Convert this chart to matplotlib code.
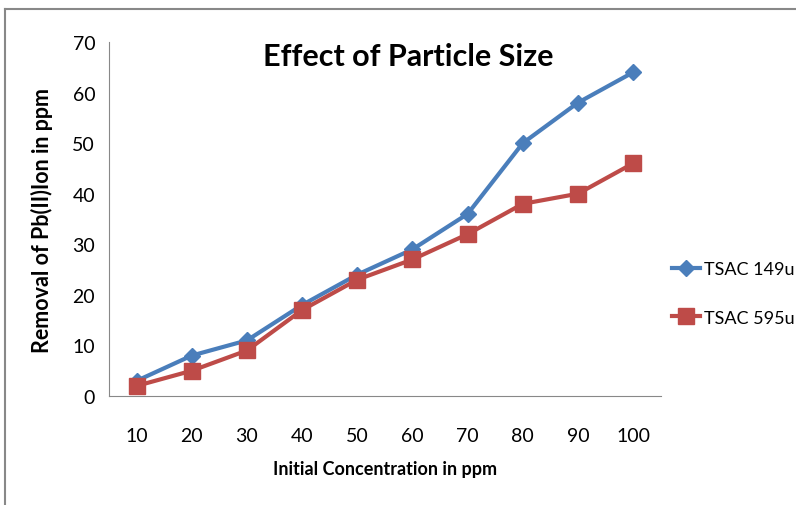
import matplotlib.pyplot as plt
from matplotlib.lines import Line2D

plt.rcParams['font.family'] = ['Lato', 'DejaVu Sans']

# Data
conc = [10, 20, 30, 40, 50, 60, 70, 80, 90, 100]
tsac_149 = [3, 8, 11, 18, 24, 29, 36, 50, 58, 64]
tsac_595 = [2, 5, 9, 17, 23, 27, 32, 38, 40, 46]

blue = '#4a7ebb'
red = '#be4b48'

fig = plt.figure(figsize=(7.96, 5.06), dpi=100)
ax = fig.add_axes([0.137, 0.2154, 0.693, 0.6996])

x = list(range(len(conc)))
ax.plot(x, tsac_149, color=blue, lw=3, marker='D', ms=8, label='TSAC 149u')
ax.plot(x, tsac_595, color=red, lw=3, marker='s', ms=11, label='TSAC 595u')

ax.set_xlim(-0.5, len(conc) - 0.5)
ax.set_ylim(0, 70)
ax.set_xticks(x)
ax.set_xticklabels([str(c) for c in conc])
ax.set_yticks(range(0, 71, 10))
ax.tick_params(length=0, labelsize=14, pad=10)
ax.tick_params(axis='x', pad=22)
for s in ['top', 'right']:
    ax.spines[s].set_visible(False)
for s in ['left', 'bottom']:
    ax.spines[s].set_color('#888888')

ax.set_xlabel('Initial Concentration in ppm', fontsize=13, fontweight='bold', labelpad=12)
ax.set_ylabel('Removal of Pb(II)Ion in ppm', fontsize=15.5, fontweight='bold', labelpad=14)
fig.text(0.513, 0.887, 'Effect of Particle Size', fontsize=22, fontweight='bold',
         ha='center', va='center')

ax.legend(loc='center left', bbox_to_anchor=(1.0, 0.29), frameon=False,
          fontsize=13, handlelength=1.6, labelspacing=1.8, handletextpad=0.2,
          borderaxespad=0.2)

# outer frame lines
fig.add_artist(Line2D([5 / 796, 5 / 796], [0, 1 - 10 / 506], transform=fig.transFigure,
                      color='#888888', lw=1.5))
fig.add_artist(Line2D([5 / 796, 1], [1 - 10 / 506, 1 - 10 / 506], transform=fig.transFigure,
                      color='#888888', lw=1.5))

fig.savefig('out.png', dpi=100)
